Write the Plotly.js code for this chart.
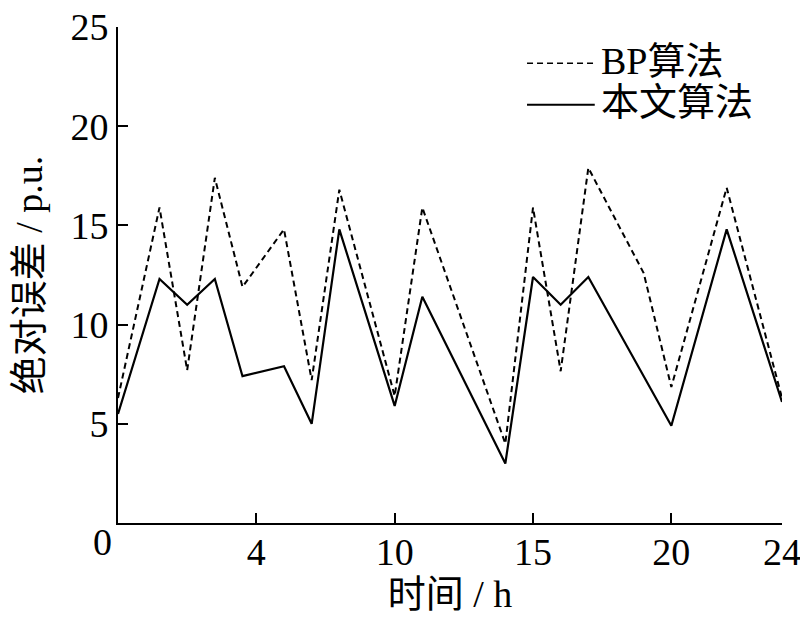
<!DOCTYPE html>
<html>
<head>
<meta charset="utf-8">
<script src="https://cdn.plot.ly/plotly-3.0.1.min.js"></script>
<style>html,body{margin:0;padding:0;background:#fff;}#chart{width:800px;height:619px;}</style>
</head>
<body>
<div id="chart"></div>
<script>
const hours = [0, 1.5, 2.5, 3.5, 4.5, 6, 7, 8, 10, 11, 14, 15, 16, 17, 19, 20, 22, 24];
const bpError = [6.3, 15.9, 7.7, 17.4, 11.9, 14.8, 7.2, 16.8, 6.4, 15.9, 4.0, 15.9, 7.65, 17.9, 12.6, 6.85, 16.9, 6.3];
const oursError = [5.5, 12.3, 11.0, 12.3, 7.4, 7.9, 5.0, 14.8, 5.9, 11.4, 3.0, 12.4, 11.0, 12.4, null, 4.9, 14.8, 6.1];
const seriesNames = ['BP算法', '本文算法'];
const seriesDash = ['6px,4px', 'solid'];
const xTickVals = [5, 10, 15, 20, 24];
const xTickText = ['4', '10', '15', '20', '24'];
const yTickVals = [5, 10, 15, 20, 25];

const fontFam = '"Liberation Serif", "Times New Roman", "Noto Sans CJK SC", serif';

const traces = [
  {x: hours, y: bpError, name: seriesNames[0], type: 'scatter', mode: 'lines',
   line: {color: '#000', width: 2, dash: seriesDash[0]}, connectgaps: true},
  {x: hours, y: oursError, name: seriesNames[1], type: 'scatter', mode: 'lines',
   line: {color: '#000', width: 2.2, dash: seriesDash[1]}, connectgaps: true}
];

// custom legend (long line samples as in the original figure)
const legendRows = [0.927, 0.843];
const shapes = [];
const annotations = [];
seriesNames.forEach((name, i) => {
  shapes.push({type: 'line', xref: 'paper', yref: 'paper', x0: 0.616, x1: 0.718,
               y0: legendRows[i], y1: legendRows[i],
               line: {color: '#000', width: i === 0 ? 1.6 : 2, dash: seriesDash[i]}});
  annotations.push({xref: 'paper', yref: 'paper', x: 0.724, y: legendRows[i] + 0.005,
                    xanchor: 'left', yanchor: 'middle', text: name, showarrow: false,
                    font: {family: fontFam, size: 38, color: '#000'}});
});
annotations.push({x: 0, y: 0, xref: 'x', yref: 'y', text: '0', showarrow: false,
                  xanchor: 'right', yanchor: 'top', xshift: -4, yshift: 4,
                  font: {family: fontFam, size: 38, color: '#000'}});

const layout = {
  width: 800, height: 619,
  margin: {l: 118, r: 18, t: 27, b: 96},
  paper_bgcolor: '#fff', plot_bgcolor: '#fff',
  font: {family: fontFam, color: '#000', size: 38},
  showlegend: false,
  xaxis: {range: [0, 24], tickvals: xTickVals, ticktext: xTickText, ticks: 'inside', ticklen: 10,
          tickwidth: 2, tickcolor: '#000', showline: true, linecolor: '#000', linewidth: 2,
          showgrid: false, zeroline: false, tickfont: {family: fontFam, size: 38},
          ticklabeloverflow: 'allow', ticklabelstandoff: -6,
          title: {text: '时间 / h', font: {family: fontFam, size: 38}, standoff: 4}},
  yaxis: {range: [0, 25], tickvals: yTickVals, ticks: 'inside', ticklen: 10,
          tickwidth: 2, tickcolor: '#000', showline: true, linecolor: '#000', linewidth: 2,
          showgrid: false, zeroline: false, tickfont: {family: fontFam, size: 38},
          ticklabeloverflow: 'allow',
          title: {text: '绝对误差 / p.u.', font: {family: fontFam, size: 38}, standoff: 16}},
  shapes: shapes,
  annotations: annotations
};

Plotly.newPlot('chart', traces, layout, {displayModeBar: false, staticPlot: true});
</script>
</body>
</html>
